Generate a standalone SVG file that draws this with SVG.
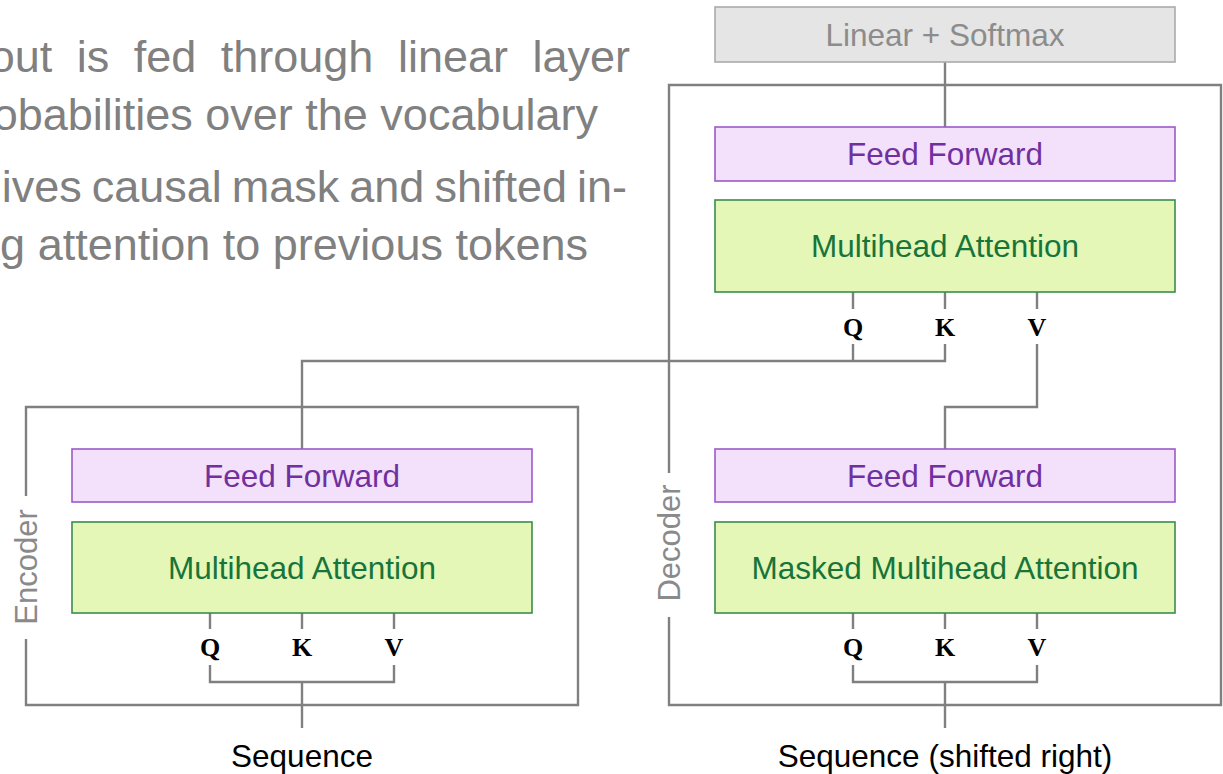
<svg xmlns="http://www.w3.org/2000/svg" width="1223" height="774" viewBox="0 0 1223 774">
  <style>
    .para { font-family: "Liberation Sans", Arial, sans-serif; font-size: 45px; fill: #808080; }
    .lbl { font-family: "Liberation Sans", Arial, sans-serif; font-size: 31.5px; text-anchor: middle; }
    .frame { fill: none; stroke: #808080; stroke-width: 2.4; }
    .wire { fill: none; stroke: #808080; stroke-width: 2.4; }
    .ff rect { fill: #f3e0fa; stroke: #9b5ac8; stroke-width: 1.6; }
    .ff text { fill: #7030a0; }
    .mha rect { fill: #e4f7b6; stroke: #3b8c4f; stroke-width: 1.6; }
    .mha text { fill: #17743a; }
    .qkv { font-family: "Liberation Serif", "Times New Roman", serif; font-weight: bold; font-size: 26px; text-anchor: middle; fill: #000; }
    .side { font-family: "Liberation Sans", Arial, sans-serif; font-size: 31px; text-anchor: middle; fill: #8a8a8a; }
    .io { font-family: "Liberation Sans", Arial, sans-serif; font-size: 31.5px; text-anchor: middle; fill: #000; }
  </style>

  <!-- bullet text (left column) -->
  <g id="notes">
    <text class="para" x="630" y="72" text-anchor="end" word-spacing="12">out is fed through linear layer</text>
    <text class="para" x="598" y="130" text-anchor="end">obabilities over the vocabulary</text>
    <text class="para" x="627" y="202" text-anchor="end" word-spacing="-2.5">ives causal mask and shifted in-</text>
    <text class="para" x="588" y="260" text-anchor="end">g attention to previous tokens</text>
  </g>

  <!-- connectors -->
  <g id="connectors">
    <!-- encoder input -->
    <path class="wire" d="M302 728 V682 M210 665 V682 H394 V665 M210 613 V629 M302 613 V629 M394 613 V629"/>
    <!-- decoder input -->
    <path class="wire" d="M945 728 V682 M853 665 V682 H1037 V665 M853 613 V629 M945 613 V629 M1037 613 V629"/>
    <!-- encoder output to cross-attention Q/K -->
    <path class="wire" d="M302 449 V361 H945 V344 M853 361 V344 M853 292 V309 M945 292 V309 M1037 292 V309"/>
    <!-- decoder self-attention output to cross-attention V -->
    <path class="wire" d="M945 449 V407 H1037 V344"/>
    <!-- decoder output to linear layer -->
    <path class="wire" d="M945 127 V62"/>
  </g>

  <!-- encoder -->
  <g id="encoder">
    <path class="frame" d="M26 496 V407 H578 V705 H26 V639"/>
    <text class="side" transform="translate(37 567) rotate(-90)">Encoder</text>
    <g id="enc-ff" class="ff">
      <rect x="72" y="449" width="460" height="53"/>
      <text class="lbl" x="302" y="486.5">Feed Forward</text>
    </g>
    <g id="enc-mha" class="mha">
      <rect x="72" y="522" width="460" height="91"/>
      <text class="lbl" x="302" y="579">Multihead Attention</text>
    </g>
    <text class="qkv" x="210" y="656">Q</text>
    <text class="qkv" x="302" y="656">K</text>
    <text class="qkv" x="394" y="656">V</text>
    <text class="io" x="302" y="767">Sequence</text>
  </g>

  <!-- decoder -->
  <g id="decoder">
    <path class="frame" d="M669 473 V85 H1221 V705 H669 V617"/>
    <text class="side" transform="translate(680 543) rotate(-90)">Decoder</text>
    <g id="dec-ff-top" class="ff">
      <rect x="715" y="127" width="460" height="54"/>
      <text class="lbl" x="945" y="165">Feed Forward</text>
    </g>
    <g id="dec-mha" class="mha">
      <rect x="715" y="200" width="460" height="92"/>
      <text class="lbl" x="945" y="257">Multihead Attention</text>
    </g>
    <text class="qkv" x="853" y="336">Q</text>
    <text class="qkv" x="945" y="336">K</text>
    <text class="qkv" x="1037" y="336">V</text>
    <g id="dec-ff-bottom" class="ff">
      <rect x="715" y="449" width="460" height="53"/>
      <text class="lbl" x="945" y="486.5">Feed Forward</text>
    </g>
    <g id="dec-masked" class="mha">
      <rect x="715" y="522" width="460" height="91"/>
      <text class="lbl" x="945" y="579">Masked Multihead Attention</text>
    </g>
    <text class="qkv" x="853" y="656">Q</text>
    <text class="qkv" x="945" y="656">K</text>
    <text class="qkv" x="1037" y="656">V</text>
    <text class="io" x="945" y="767">Sequence (shifted right)</text>
  </g>

  <!-- output head -->
  <g id="linear-softmax">
    <rect x="715" y="7" width="460" height="55" fill="#e5e5e5" stroke="#ababab" stroke-width="1.6"/>
    <text class="lbl" x="945" y="45.5" fill="#8c8c8c">Linear + Softmax</text>
  </g>
</svg>
